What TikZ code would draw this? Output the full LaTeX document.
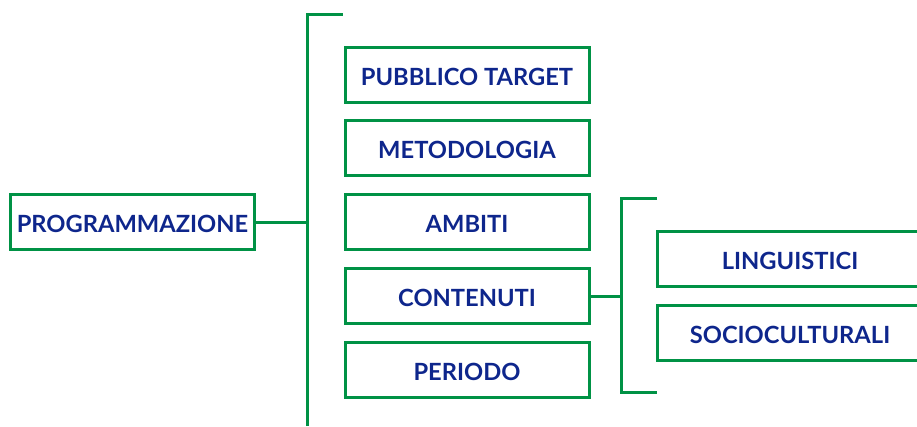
\documentclass[tikz,border=0pt]{standalone}
\usepackage{fontspec}
\setmainfont{Lato}
\usepackage{tikz}
\usetikzlibrary{positioning}
\definecolor{verde}{RGB}{0,146,69}
\definecolor{blu}{RGB}{14,38,140}

\begin{document}
\begin{tikzpicture}[
  x=1pt, y=-1pt,
  font=\bfseries\fontsize{23.7}{26}\selectfont,
  voce/.style={rectangle, draw=verde, line width=3pt, text=blu,
               minimum width=244pt, minimum height=55pt, inner sep=0pt,
               text height=21pt, text depth=0pt},
  sotto/.style={voce, minimum width=266pt},
  ramo/.style={draw=verde, line width=3pt}
]
  \useasboundingbox (0,0) rectangle (917,426);
  \node[voce] (prog) at (132.5,222) {PROGRAMMAZIONE};
  \node[voce] (target) at (467,75)  {PUBBLICO TARGET};
  \node[voce] (metodo) at (467,148) {METODOLOGIA};
  \node[voce] (ambiti) at (467,222) {AMBITI};
  \node[voce] (cont)   at (467,296) {CONTENUTI};
  \node[voce] (per)    at (467,370) {PERIODO};
  \node[sotto] (ling)  at (790,259) {LINGUISTICI};
  \node[sotto] (socio) at (790,333) {SOCIOCULTURALI};
  % parentesi principale
  \coordinate (g1) at (307,222);
  \coordinate (g1top) at (307,14);
  \coordinate (g1end) at (343,14);
  \coordinate (g1bot) at (307,426);
  \draw[ramo] (prog) -- (g1);
  \draw[ramo] (g1bot) -- (g1top) -- (g1end);
  % parentesi dei contenuti
  \coordinate (g2) at (621,296);
  \coordinate (g2top) at (657,198);
  \coordinate (g2bot) at (657,392);
  \draw[ramo] (cont) -- (g2);
  \draw[ramo] (g2top) -| (g2) |- (g2bot);
\end{tikzpicture}
\end{document}
